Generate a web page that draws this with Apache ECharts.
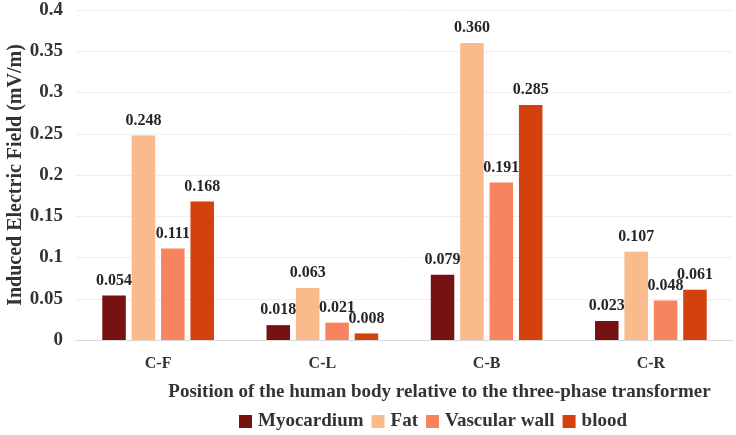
<!DOCTYPE html>
<html>
<head>
<meta charset="utf-8">
<script src="https://cdn.jsdelivr.net/npm/echarts@6/dist/echarts.min.js"></script>
<style>html,body{margin:0;padding:0;background:#fff;}#c{width:736px;height:435px;}</style>
</head>
<body>
<div id="c"></div>
<script>
const categories = ['C-F', 'C-L', 'C-B', 'C-R'];
const seriesNames = ['Myocardium', 'Fat', 'Vascular wall', 'blood'];
const myocardium = [0.054, 0.018, 0.079, 0.023];
const fat = [0.248, 0.063, 0.360, 0.107];
const vascularWall = [0.111, 0.021, 0.191, 0.048];
const blood = [0.168, 0.008, 0.285, 0.061];
const yTicks = [0, 0.05, 0.1, 0.15, 0.2, 0.25, 0.3, 0.35, 0.4];
const colors = ['#761212', '#F9BB8B', '#F8845F', '#D3410F'];

const font = '"Liberation Serif", "Times New Roman", serif';
const values = [myocardium, fat, vascularWall, blood];

const chart = echarts.init(document.getElementById('c'), null, {renderer: 'canvas'});
chart.setOption({
  animation: false,
  backgroundColor: '#fff',
  color: colors,
  grid: {left: 76, right: 3, top: 10, bottom: 95, containLabel: false, outerBoundsMode: 'none'},
  legend: {
    data: seriesNames,
    top: 407,
    left: 234,
    itemWidth: 13,
    itemHeight: 13,
    itemGap: 8,
    icon: 'rect',
    textStyle: {fontFamily: font, fontWeight: 'bold', fontSize: 19, color: '#333', padding: [0, 0, 0, 1]}
  },
  xAxis: {
    type: 'category',
    data: categories,
    name: 'Position of the human body relative to the three-phase transformer',
    nameLocation: 'middle',
    nameGap: 43,
    nameMoveOverlap: false,
    nameTextStyle: {fontFamily: font, fontWeight: 'bold', fontSize: 19, color: '#333', padding: [0, 0, 0, 70]},
    axisLine: {lineStyle: {color: '#d9d9d9', width: 1}},
    axisTick: {show: false},
    axisLabel: {fontFamily: font, fontWeight: 'bold', fontSize: 16, color: '#333', margin: 16}
  },
  yAxis: {
    type: 'value',
    min: 0,
    max: 0.4,
    interval: 0.05,
    name: 'Induced Electric Field (mV/m)',
    nameLocation: 'middle',
    nameGap: 50,
    nameMoveOverlap: false,
    nameTextStyle: {fontFamily: font, fontWeight: 'bold', fontSize: 20, color: '#333'},
    axisLine: {show: false},
    axisTick: {show: false},
    splitLine: {lineStyle: {color: '#efefef', width: 1}},
    axisLabel: {
      fontFamily: font, fontWeight: 'bold', fontSize: 19, color: '#333', margin: 13,
      formatter: v => {
        const t = yTicks.find(x => Math.abs(x - v) < 1e-9);
        return String(t !== undefined ? t : v);
      }
    }
  },
  series: seriesNames.map((n, i) => ({
    name: n,
    type: 'bar',
    data: values[i],
    barGap: '25%',
    barCategoryGap: '32%',
    itemStyle: {color: colors[i]},
    label: {
      show: true,
      position: 'top',
      distance: 7,
      fontFamily: font,
      fontWeight: 'bold',
      fontSize: 16,
      color: '#262626',
      formatter: p => p.value.toFixed(3)
    }
  }))
});
</script>
</body>
</html>
